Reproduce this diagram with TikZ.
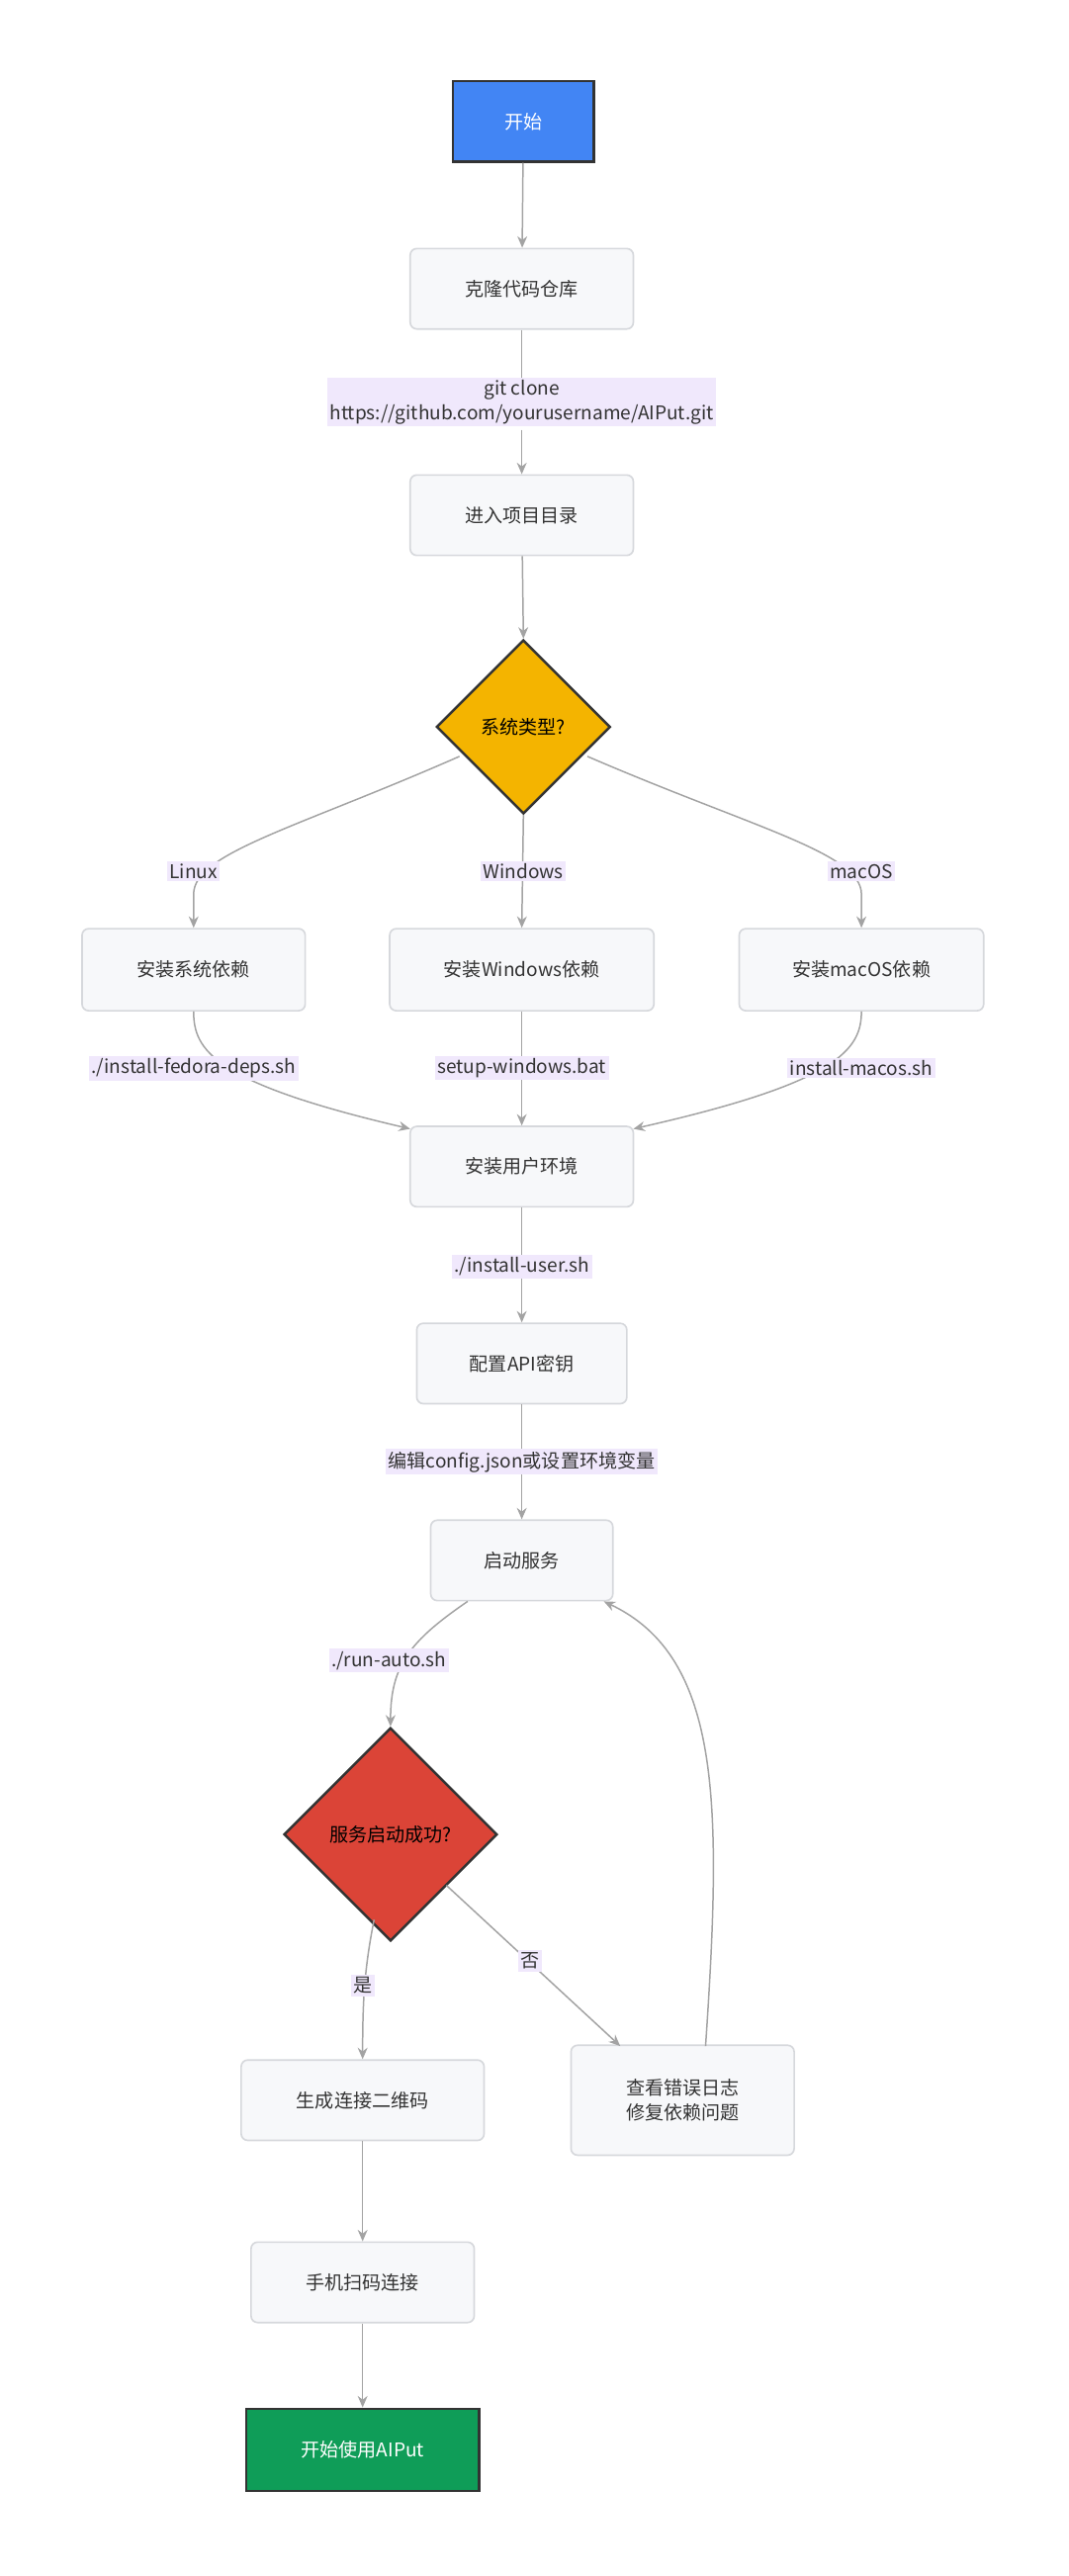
\documentclass[tikz,border=0pt]{standalone}
\usepackage{fontspec}
\setmainfont{Noto Sans CJK SC}
\usetikzlibrary{shapes.geometric,arrows.meta}
\definecolor{bx}{HTML}{F7F8FA}
\definecolor{bxd}{HTML}{D6D8DC}
\definecolor{lab}{HTML}{F0E8FC}
\definecolor{ln}{HTML}{A3A3A3}
\begin{document}
\begin{tikzpicture}[x=1pt,y=-1pt,
  font=\fontsize{11.5}{15}\selectfont,
  box/.style={draw=bxd,fill=bx,rounded corners=4pt,line width=1pt,text=black!80,align=center},
  lbl/.style={fill=lab,inner sep=1.5pt,text=black!80,align=center},
  e/.style={draw=ln,line width=0.9pt,-{Stealth[length=7pt,width=6pt]}}]
\useasboundingbox (0,0) rectangle (651,1570);
\node[draw=black!80,line width=1.5pt,fill=blue!60!cyan!70!black!0,fill={rgb,255:red,66;green,133;blue,244},text=white,minimum width=86pt,minimum height=49pt] (start) at (319,74) {开始};
\node[box,minimum width=136pt,minimum height=49pt] (clone) at (318,176) {克隆代码仓库};
\node[box,minimum width=136pt,minimum height=49pt] (enter) at (318,314) {进入项目目录};
\node[diamond,draw=black!80,line width=1.5pt,fill={rgb,255:red,244;green,180;blue,0},minimum width=106pt,minimum height=106pt,inner sep=0pt] (sys) at (319,443) {系统类型?};
\node[box,minimum width=136pt,minimum height=50pt] (lin) at (118,591) {安装系统依赖};
\node[box,minimum width=161pt,minimum height=50pt] (win) at (318,591) {安装Windows依赖};
\node[box,minimum width=149pt,minimum height=50pt] (mac) at (525,591) {安装macOS依赖};
\node[box,minimum width=136pt,minimum height=49pt] (user) at (318,711) {安装用户环境};
\node[box,minimum width=128pt,minimum height=49pt] (api) at (318,831) {配置API密钥};
\node[box,minimum width=111pt,minimum height=49pt] (run) at (318,951) {启动服务};
\node[diamond,draw=black!80,line width=1.5pt,fill={rgb,255:red,219;green,68;blue,55},minimum width=130pt,minimum height=130pt,inner sep=0pt] (ok) at (238,1118) {服务启动成功?};
\node[box,minimum width=148pt,minimum height=49pt] (qr) at (221,1280) {生成连接二维码};
\node[box,minimum width=136pt,minimum height=67pt] (err) at (416,1280) {查看错误日志\\修复依赖问题};
\node[box,minimum width=136pt,minimum height=49pt] (scan) at (221,1391) {手机扫码连接};
\node[draw=black!80,line width=1.5pt,fill={rgb,255:red,15;green,157;blue,88},text=white,minimum width=142pt,minimum height=50pt] (use) at (221,1493) {开始使用AIPut};
% edges
\draw[e] (start) -- (clone);
\draw[draw=ln,line width=0.9pt] (clone) -- (318,230);
\draw[e] (318,262) -- (enter);
\node[lbl] (l1) at (318,245) {git clone\\https://github.com/yourusername/AIPut.git};
\draw[e] (enter) -- (sys.north);
\coordinate (sl) at (280,461);
\coordinate (sr) at (358,461);
\draw[e] (sl) .. controls (180,505) and (118,520) .. (118,545) -- (lin.north);
\draw[e] (sys.south) -- (win.north);
\draw[e] (sr) .. controls (460,505) and (525,520) .. (525,545) -- (mac.north);
\node[lbl] at (118,531) {Linux};
\node[lbl] at (319,531) {Windows};
\node[lbl] at (525,531) {macOS};
\coordinate (u1) at (250,688);
\coordinate (u2) at (386,688);
\draw[e] (lin.south) .. controls (118,640) and (130,660) .. (u1);
\draw[e] (win.south) -- (user.north);
\draw[e] (mac.south) .. controls (525,640) and (510,660) .. (u2);
\node[lbl] at (118,651) {./install-fedora-deps.sh};
\node[lbl] at (318,651) {setup-windows.bat};
\node[lbl] at (525,651) {install-macos.sh};
\draw[e] (user) -- (api);
\node[lbl] at (318,772) {./install-user.sh};
\draw[e] (api) -- (run);
\node[lbl] at (318,891) {编辑config.json或设置环境变量};
\coordinate (r1) at (285,976);
\draw[e] (r1) .. controls (250,1000) and (238,1015) .. (ok.north);
\node[lbl] at (237,1012) {./run-auto.sh};
\coordinate (o1) at (228,1170);
\coordinate (o2) at (272,1149);
\draw[e] (o1) .. controls (222,1200) and (221,1220) .. (qr.north);
\draw[e] (o2) -- (378,1247);
\node[lbl] at (221,1210) {是};
\node[lbl] at (323,1195) {否};
\coordinate (e1) at (430,1247);
\coordinate (r2) at (368,976);
\draw[e] (e1) .. controls (440,1100) and (440,1010) .. (r2);
\draw[e] (qr) -- (scan);
\draw[e] (scan) -- (use);
\end{tikzpicture}
\end{document}
